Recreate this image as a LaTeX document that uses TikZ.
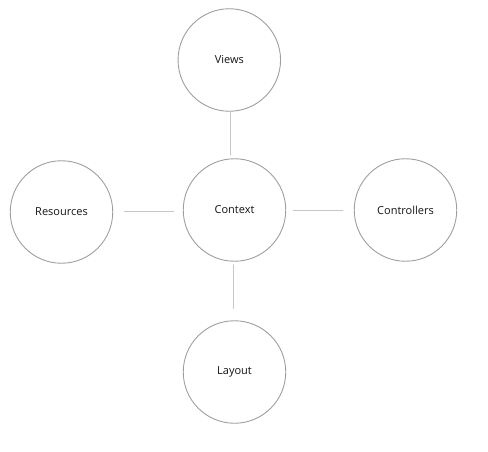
\documentclass[tikz,border=0pt]{standalone}
\usepackage{fontspec}
\setmainfont{Open Sans}
\begin{document}
\begin{tikzpicture}[x=1pt,y=-1pt,line cap=round,line join=round,
  part/.style={circle,draw=black!38,line width=0.9pt,minimum size=102.5pt,inner sep=0pt,font=\fontsize{11}{13}\selectfont,text=black!92},
  link/.style={draw=black!22,line width=0.9pt}]
  \useasboundingbox (0,0) rectangle (488,452);
  \node[part] (views) at (229.3,60) {Views};
  \node[part] (context) at (234.5,210) {Context};
  \node[part] (resources) at (61.5,212) {Resources};
  \node[part] (controllers) at (405.5,210) {Controllers};
  \node[part] (layout) at (234.5,372) {Layout};
  \draw[link,shorten >=3.3pt] ([xshift=1.2pt]views.south) -- ([xshift=1.2pt]views.south |- context.north);
  \draw[link,shorten <=11pt,shorten >=9pt] ([yshift=0.7pt]resources.east) -- ([yshift=0.7pt]resources.east -| context.west);
  \draw[link,shorten <=7pt,shorten >=11pt] ([yshift=-0.7pt]context.east) -- ([yshift=-0.7pt]context.east -| controllers.west);
  \draw[link,shorten <=3pt,shorten >=12pt] ([xshift=-1.2pt]context.south) -- ([xshift=-1.2pt]layout.north);
\end{tikzpicture}
\end{document}
